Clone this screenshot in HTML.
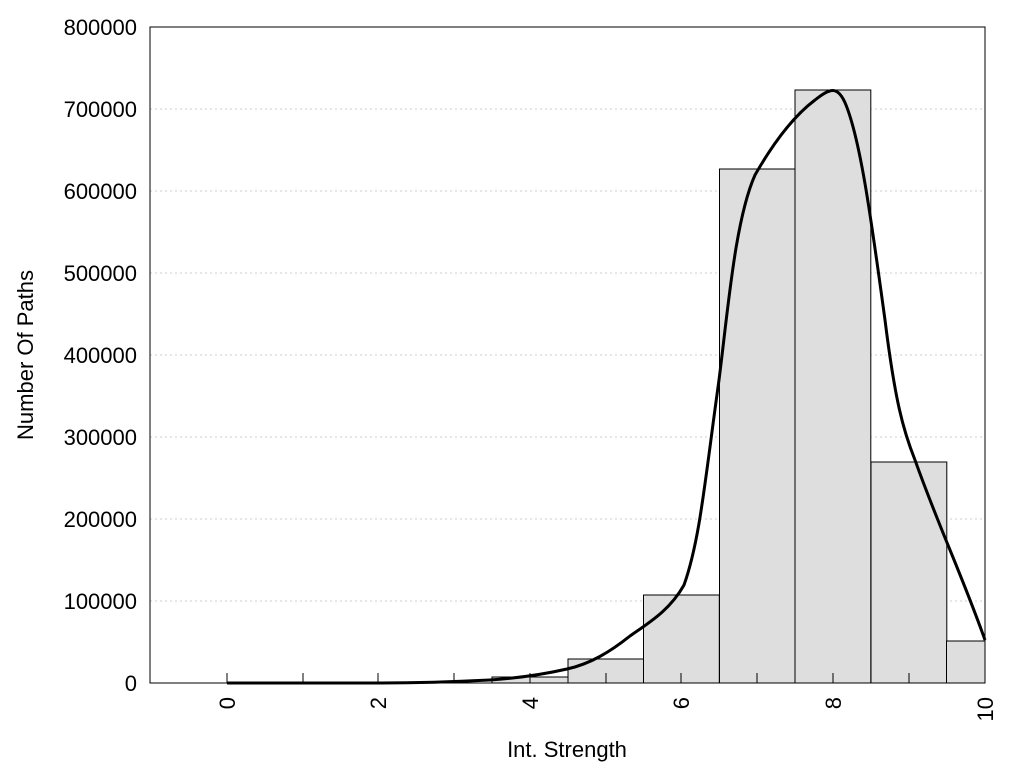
<!DOCTYPE html><html><head><style>body{margin:0;background:#fff}</style></head><body>
<svg width="1024" height="768" xmlns="http://www.w3.org/2000/svg" font-family="Liberation Sans, sans-serif" font-size="22">
<g stroke="#ccc" stroke-dasharray="2,3" stroke-width="1">
<line x1="150" x2="985" y1="601" y2="601"/><line x1="150" x2="985" y1="519" y2="519"/><line x1="150" x2="985" y1="437" y2="437"/><line x1="150" x2="985" y1="355" y2="355"/><line x1="150" x2="985" y1="273" y2="273"/><line x1="150" x2="985" y1="191" y2="191"/><line x1="150" x2="985" y1="109" y2="109"/>
</g>
<g fill="#dedede" stroke="#000" stroke-width="1">
<rect x="492" y="677" width="76" height="6"/>
<rect x="568" y="659" width="75.8" height="24"/>
<rect x="643.5" y="595" width="75.8" height="88"/>
<rect x="719.5" y="169" width="75.8" height="514"/>
<rect x="795" y="90" width="75.8" height="593"/>
<rect x="871" y="462" width="75.8" height="221"/>
<rect x="946.5" y="641" width="38.5" height="42"/>
</g>
<g stroke="#000" stroke-width="1">
<line x1="227" x2="227" y1="683" y2="673"/><line x1="303" x2="303" y1="683" y2="673"/><line x1="378" x2="378" y1="683" y2="673"/><line x1="454" x2="454" y1="683" y2="673"/><line x1="530" x2="530" y1="683" y2="673"/><line x1="606" x2="606" y1="683" y2="673"/><line x1="681" x2="681" y1="683" y2="673"/><line x1="757" x2="757" y1="683" y2="673"/><line x1="833" x2="833" y1="683" y2="673"/><line x1="909" x2="909" y1="683" y2="673"/>
</g>
<path d="M227,683 L378,683 C420,683 450,682 490,680 C520,678 545,674 567,669 C590,664 610,652 630,636 C650,622 670,610 684,585 C700,540 705,480 719,380 C728,310 735,220 755,175 C775,140 795,115 815,100 C830,88 838,85 846,105 C860,140 870,210 885,320 C895,400 903,430 915,460 C940,530 960,570 985,640" fill="none" stroke="#000" stroke-width="3"/>
<rect x="150" y="27" width="835" height="656" fill="none" stroke="#000" stroke-width="1"/>
<g text-anchor="end">
<text x="137" y="691">0</text><text x="137" y="609">100000</text><text x="137" y="527">200000</text><text x="137" y="445">300000</text><text x="137" y="363">400000</text><text x="137" y="281">500000</text><text x="137" y="199">600000</text><text x="137" y="117">700000</text><text x="137" y="35">800000</text>
</g>
<g text-anchor="end">
<text transform="translate(235,697) rotate(-90)">0</text>
<text transform="translate(386,697) rotate(-90)">2</text>
<text transform="translate(538,697) rotate(-90)">4</text>
<text transform="translate(689,697) rotate(-90)">6</text>
<text transform="translate(841,697) rotate(-90)">8</text>
<text transform="translate(993,697) rotate(-90)">10</text>
</g>
<text x="567" y="757" text-anchor="middle">Int. Strength</text>
<text transform="translate(33,355) rotate(-90)" text-anchor="middle">Number Of Paths</text>
</svg></body></html>
